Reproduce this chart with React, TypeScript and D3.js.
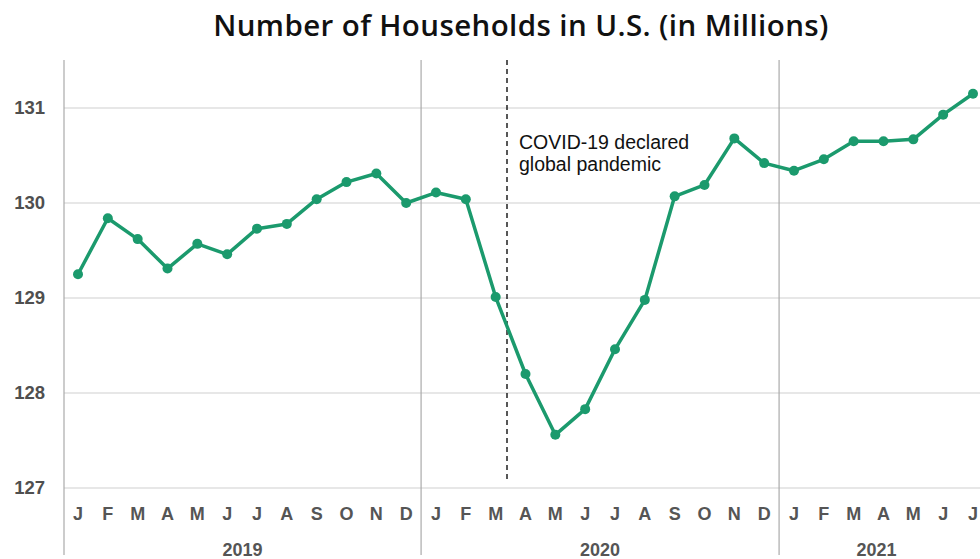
import React from "react";
import * as d3 from "d3";

const monthLabels = ["J","F","M","A","M","J","J","A","S","O","N","D","J","F","M","A","M","J","J","A","S","O","N","D","J","F","M","A","M","J","J"];
const years = ["2019", "2020", "2021"];
const households = [
  129.25, 129.84, 129.62, 129.31, 129.57, 129.46, 129.73, 129.78, 130.04, 130.22, 130.31, 130.0,
  130.11, 130.04, 129.01, 128.2, 127.56, 127.83, 128.46, 128.98, 130.07, 130.19, 130.68, 130.42,
  130.34, 130.46, 130.65, 130.65, 130.67, 130.93, 131.15,
];
const yTicks = [127, 128, 129, 130, 131];
const pandemicIdx = 14.38; // March 11, 2020
const annotationLines = ["COVID-19 declared", "global pandemic"];
const title = "Number of Households in U.S. (in Millions)";

export default function App() {
  const W = 980, H = 559;
  const x = d3.scaleLinear().domain([0, 30]).range([78, 973]);
  const y = d3.scaleLinear().domain([127, 131]).range([488, 108]);
  const left = 64, top = 60, bottom = 555;
  const green = "#1b9a6d";
  const line = d3.line<number>().x((_, i) => x(i)).y((d) => y(d));
  const sepX = [x(11.5), x(23.5)];
  const yearEnds = [x(11.5), x(23.5), W];
  const yearStarts = [left, x(11.5), x(23.5)];
  const font = "'Liberation Sans', Arial, Helvetica, sans-serif";

  return (
    <svg width={W} height={H} style={{ position: "absolute", left: 0, top: 0, background: "#fff" }}>
      <text x={521} y={36} textAnchor="middle" fontFamily="'Open Sans', Lato, sans-serif" fontWeight={600} fontSize={29.5} fill="#111" letterSpacing={0.4}>
        {title}
      </text>
      {yTicks.map((t) => (
        <g key={t}>
          <line x1={left} x2={W} y1={y(t)} y2={y(t)} stroke="#cfcfcf" strokeWidth={1.2} />
          <text x={45} y={y(t)} dy="0.35em" textAnchor="end" fontFamily={font} fontWeight={700} fontSize={18.5} fill="#4f4f4f">
            {t}
          </text>
        </g>
      ))}
      <line x1={left} x2={left} y1={top} y2={bottom} stroke="#aaa" strokeWidth={1.2} />
      {sepX.map((sx, i) => (
        <line key={i} x1={sx} x2={sx} y1={top} y2={bottom} stroke="#aaa" strokeWidth={1.2} />
      ))}
      <line x1={x(pandemicIdx)} x2={x(pandemicIdx)} y1={top} y2={483} stroke="#111" strokeWidth={1.4} strokeDasharray="5,4" />
      {annotationLines.map((t, i) => (
        <text key={i} x={519} y={149 + i * 22} fontFamily={font} fontSize={19.5} fill="#111">
          {t}
        </text>
      ))}
      {monthLabels.map((m, i) => (
        <text key={i} x={x(i)} y={514} dy="0.35em" textAnchor="middle" fontFamily={font} fontWeight={700} fontSize={18} fill="#555">
          {m}
        </text>
      ))}
      {years.map((yr, i) => (
        <text key={yr} x={(yearStarts[i] + yearEnds[i]) / 2 + (i === 2 ? -3 : 0)} y={550} dy="0.35em" textAnchor="middle" fontFamily={font} fontWeight={700} fontSize={18} fill="#555">
          {yr}
        </text>
      ))}
      <path d={line(households) || ""} fill="none" stroke={green} strokeWidth={3.5} strokeLinejoin="round" />
      {households.map((v, i) => (
        <circle key={i} cx={x(i)} cy={y(v)} r={5} fill={green} />
      ))}
    </svg>
  );
}
